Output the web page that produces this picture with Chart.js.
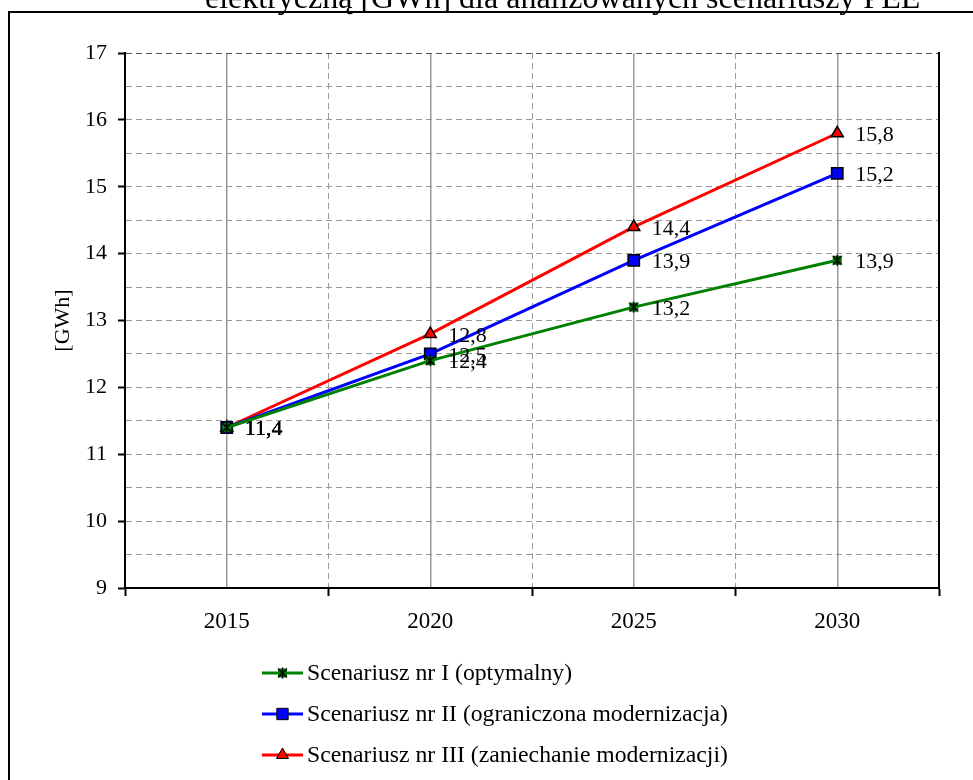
<!doctype html>
<html lang="pl">
  <head>
    <meta charset="utf-8">
    <title>Zapotrzebowanie na energię elektryczną</title>
    <script src="https://cdn.jsdelivr.net/npm/chart.js@4.4.1/dist/chart.umd.min.js"></script>
  </head>

  <style>
    body {
      margin: 0;
      background-color: #ffffff;
      overflow: hidden;
    }
    #wrap {
      position: relative;
      width: 973px;
      height: 780px;
    }
    #frame {
      position: absolute;
      left: 8px;
      top: 11px;
      width: 1000px;
      height: 900px;
      border: 2px solid #000;
      box-sizing: border-box;
    }
    #title {
      position: absolute;
      left: 205px;
      top: -19px;
      font-family: "Liberation Serif", serif;
      font-size: 32px;
      line-height: 32px;
      white-space: nowrap;
      color: #000;
    }
  </style>

  <body>
  <div id="wrap">
    <div id="title">elektryczną [GWh] dla analizowanych scenariuszy PEE</div>
    <div id="frame"></div>
    <canvas id="chart"></canvas>
  </div>

  <script>
    // dane z wykresu
    const years = ['2015', '2020', '2025', '2030'];
    const scen1 = [11.4, 12.4, 13.2, 13.9];
    const scen2 = [11.4, 12.5, 13.9, 15.2];
    const scen3 = [11.4, 12.8, 14.4, 15.8];
    const names = [
      'Scenariusz nr I (optymalny)',
      'Scenariusz nr II (ograniczona modernizacja)',
      'Scenariusz nr III (zaniechanie modernizacji)'
    ];

    const FONT = '"Liberation Serif", "Times New Roman", serif';

    // marker "gwiazdka" dla scenariusza I
    function starMarker() {
      const c = document.createElement('canvas');
      c.width = 13; c.height = 13;
      const g = c.getContext('2d');
      g.fillStyle = '#008000';
      g.fillRect(2, 2, 9, 9);
      g.strokeStyle = '#000';
      g.lineWidth = 1.5;
      g.beginPath();
      g.moveTo(2, 2); g.lineTo(11, 11);
      g.moveTo(11, 2); g.lineTo(2, 11);
      g.moveTo(6.5, 1); g.lineTo(6.5, 12);
      g.stroke();
      return c;
    }

    const valueLabels = {
      id: 'valueLabels',
      afterDatasetsDraw(chart) {
        const ctx = chart.ctx;
        ctx.save();
        ctx.font = '22px ' + FONT;
        ctx.fillStyle = '#000';
        ctx.textAlign = 'left';
        ctx.textBaseline = 'middle';
        chart.data.datasets.forEach((ds, i) => {
          chart.getDatasetMeta(i).data.forEach((pt, j) => {
            const txt = ds.data[j].toFixed(1).replace('.', ',');
            ctx.fillText(txt, pt.x + 18, pt.y + 2);
          });
        });
        ctx.restore();
      }
    };

    const bottomLegend = {
      id: 'bottomLegend',
      afterDraw(chart) {
        const ctx = chart.ctx;
        const x0 = 262;
        const y0 = chart.chartArea.bottom + 85;
        ctx.save();
        chart.data.datasets.forEach((ds, i) => {
          const y = y0 + i * 41;
          ctx.strokeStyle = ds.borderColor;
          ctx.lineWidth = 3;
          ctx.beginPath();
          ctx.moveTo(x0, y);
          ctx.lineTo(x0 + 41, y);
          ctx.stroke();
          ctx.fillStyle = ds.pointBackgroundColor;
          ctx.strokeStyle = '#000';
          ctx.lineWidth = 1;
          Chart.helpers.drawPoint(ctx, {
            pointStyle: ds.pointStyle,
            radius: ds.pointRadius,
            borderWidth: 1
          }, x0 + 20.5, y);
          ctx.font = '23.7px ' + FONT;
          ctx.fillStyle = '#000';
          ctx.textAlign = 'left';
          ctx.textBaseline = 'middle';
          ctx.fillText(ds.label, x0 + 45, y + 1);
        });
        ctx.restore();
      }
    };

    const config = {
      type: 'line',
      data: {
        labels: years,
        datasets: [{
          label: names[0],
          data: scen1,
          borderColor: '#008000',
          backgroundColor: '#008000',
          pointBackgroundColor: '#008000',
          pointBorderColor: '#000',
          pointStyle: starMarker(),
          pointRadius: 6,
          borderWidth: 3
        }, {
          label: names[1],
          data: scen2,
          borderColor: '#0000ff',
          backgroundColor: '#0000ff',
          pointBackgroundColor: '#0000ff',
          pointBorderColor: '#000',
          pointStyle: 'rect',
          pointRadius: 8,
          pointBorderWidth: 1.5,
          borderWidth: 3
        }, {
          label: names[2],
          data: scen3,
          borderColor: '#ff0000',
          backgroundColor: '#ff0000',
          pointBackgroundColor: '#ff0000',
          pointBorderColor: '#000',
          pointStyle: 'triangle',
          pointRadius: 7,
          pointBorderWidth: 1.5,
          borderWidth: 3
        }]
      },
      options: {
        responsive: true,
        maintainAspectRatio: false,
        animation: false,
        layout: {
          padding: { left: 0, top: 53, right: 34, bottom: 132 }
        },
        plugins: {
          legend: { display: false },
          tooltip: { enabled: false }
        },
        scales: {
          x: {
            type: 'category',
            offset: true,
            grid: {
              offset: true,
              color: '#999',
              lineWidth: 1,
              tickColor: '#000',
              tickLength: 8,
              tickWidth: 2,
              tickBorderDash: []
            },
            border: { color: '#000', width: 2, dash: [6, 4] },
            ticks: {
              color: '#000',
              padding: 12,
              font: { family: FONT, size: 23 }
            },
            afterFit(s) { s.height = 60; }
          },
          x2: {
            type: 'category',
            labels: years,
            position: 'bottom',
            offset: true,
            grid: { offset: false, color: '#999', lineWidth: 1.5, drawTicks: false },
            border: { display: false },
            ticks: { display: false },
            afterFit(s) { s.height = 0; }
          },
          y: {
            min: 9,
            max: 17,
            ticks: {
              stepSize: 0.5,
              color: '#000',
              padding: 11,
              font: { family: FONT, size: 22 },
              callback: v => (v % 1 === 0 ? v : '')
            },
            grid: {
              color: c => (c.tick && c.tick.value === 17 ? '#555' : '#999'),
              lineWidth: 1,
              tickLength: 7,
              tickWidth: 2,
              tickBorderDash: [],
              tickColor: c => (c.tick && c.tick.value % 1 === 0 ? '#000' : 'rgba(0,0,0,0)')
            },
            border: { color: '#000', width: 2, dash: [6, 4] },
            title: {
              display: true,
              text: '[GWh]',
              color: '#000',
              font: { family: FONT, size: 22 },
              padding: { top: 50, bottom: 0 }
            },
            afterFit(s) { s.width = 125; }
          },
          y2: {
            position: 'right',
            min: 9,
            max: 17,
            grid: { display: false },
            ticks: { display: false },
            border: { color: '#000', width: 2 },
            afterFit(s) { s.width = 0; }
          }
        }
      },
      plugins: [valueLabels, bottomLegend]
    };

    new Chart(document.getElementById('chart'), config);
  </script>
  </body>
</html>
